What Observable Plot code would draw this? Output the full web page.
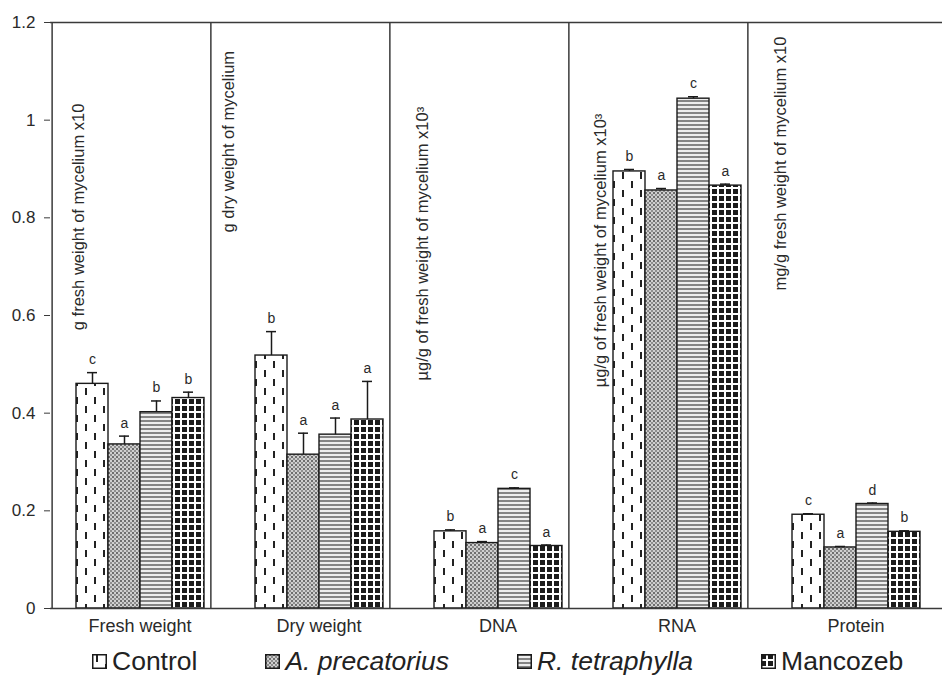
<!DOCTYPE html>
<html><head><meta charset="utf-8">
<script src="https://cdn.jsdelivr.net/npm/d3@7"></script>
<script src="https://cdn.jsdelivr.net/npm/@observablehq/plot@0.6"></script>
<style>
body{margin:0;background:#fff;font-family:"Liberation Sans",Arial,sans-serif;color:#222}
#chart{width:942px}
#legend{display:flex;align-items:center;height:36px;padding-top:1px;padding-left:92px;font-size:26.5px;line-height:36px;color:#222}
.item{display:flex;align-items:center;margin-right:68px;white-space:nowrap}
.item svg{margin-right:5px}
.it{font-style:italic}
</style></head><body>
<svg width="0" height="0" style="position:absolute"><defs>
<pattern id="p-control" patternUnits="userSpaceOnUse" width="18" height="18">
 <rect width="18" height="18" fill="#fff"/>
 <rect x="4" y="1" width="2" height="7" fill="#222"/>
 <rect x="13" y="10" width="2" height="7" fill="#222"/>
</pattern>
<pattern id="p-prec" patternUnits="userSpaceOnUse" width="4" height="4">
 <rect width="4" height="4" fill="#cfcfcf"/>
 <rect x="0" y="0" width="2" height="2" fill="#6e6e6e"/>
 <rect x="2" y="2" width="2" height="2" fill="#8e8e8e"/>
</pattern>
<pattern id="p-tetra" patternUnits="userSpaceOnUse" width="4" height="4">
 <rect width="4" height="4" fill="#eeeeee"/>
 <rect x="0" y="0" width="4" height="2" fill="#858585"/>
</pattern>
<pattern id="p-manc" patternUnits="userSpaceOnUse" width="7" height="7">
 <rect width="7" height="7" fill="#fff"/>
 <rect x="0" y="0" width="5" height="5" fill="#1c1c1c"/>
</pattern>
</defs></svg>
<div id="chart"></div>
<div id="legend"></div>
<script>
// ---- data ----
const categories = ["Fresh weight", "Dry weight", "DNA", "RNA", "Protein"];
const series = ["Control", "A. precatorius", "R. tetraphylla", "Mancozeb"];
const control     = [0.460, 0.518, 0.158, 0.895, 0.192];
const precatorius = [0.336, 0.315, 0.134, 0.856, 0.125];
const tetraphylla = [0.402, 0.356, 0.245, 1.044, 0.214];
const mancozeb    = [0.431, 0.387, 0.128, 0.866, 0.157];
const controlErr     = [0.023, 0.049, 0.003, 0.004, 0.002];
const precatoriusErr = [0.017, 0.044, 0.003, 0.004, 0.002];
const tetraphyllaErr = [0.023, 0.034, 0.002, 0.004, 0.002];
const mancozebErr    = [0.012, 0.078, 0.002, 0.003, 0.002];
const controlLetters     = ["c", "b", "b", "b", "c"];
const precatoriusLetters = ["a", "a", "a", "a", "a"];
const tetraphyllaLetters = ["b", "a", "c", "c", "d"];
const mancozebLetters    = ["b", "a", "a", "a", "b"];
const unitLabels = [
  "g fresh weight of mycelium x10",
  "g dry weight of mycelium",
  "µg/g of fresh weight of mycelium x10³",
  "µg/g of fresh weight of mycelium x10³",
  "mg/g fresh weight of mycelium x10"
];
const yTicks = [0, 0.2, 0.4, 0.6, 0.8, 1, 1.2];

// ---- build table ----
const valuesBySeries = [control, precatorius, tetraphylla, mancozeb];
const errBySeries = [controlErr, precatoriusErr, tetraphyllaErr, mancozebErr];
const lettersBySeries = [controlLetters, precatoriusLetters, tetraphyllaLetters, mancozebLetters];
const rows = [];
categories.forEach((c, i) => series.forEach((s, j) => rows.push({
  category: c, series: s, value: valuesBySeries[j][i], err: errBySeries[j][i], letter: lettersBySeries[j][i]
})));

// ---- layout / style ----
const patternFills = ["url(#p-control)", "url(#p-prec)", "url(#p-tetra)", "url(#p-manc)"];
const fxRange = [50, 945];
const padOuter = 0.733;
const bandW = (fxRange[1] - fxRange[0]) / categories.length;
const step = bandW / (series.length + 2 * padOuter);
const firstCenterOffset = padOuter * step + step / 2;
// rotated unit annotation placement (y start in data units, horizontal offset from panel left)
const unitLabelY = [0.57, 0.77, 0.467, 0.453, 0.651];
const unitLabelDx = [28, -1, 14, 13, 14];
const lineColor = "#3a3a3a";

const unitMarks = categories.map((c, i) => Plot.text([{category: c, y: unitLabelY[i], text: unitLabels[i]}], {
  fx: "category", y: "y", text: "text", frameAnchor: "left", dx: unitLabelDx[i],
  rotate: -90, textAnchor: "start", lineAnchor: "middle", fontSize: 16.5, fill: "#2a2a2a"
}));

const chart = Plot.plot({
  width: 942, height: 642,
  marginLeft: 50, marginRight: 0, marginTop: 22, marginBottom: 34,
  style: {fontFamily: "'Liberation Sans', Arial, sans-serif", color: "#222", background: "#fff"},
  fx: {domain: categories, range: fxRange, padding: 0},
  x: {domain: series, paddingInner: 0, paddingOuter: padOuter, axis: null},
  y: {domain: [0, 1.2]},
  color: {domain: series, range: patternFills},
  marks: [
    Plot.ruleY([1.2], {stroke: lineColor, strokeWidth: 1.5}),
    Plot.barY(rows, {fx: "category", x: "series", y: "value", fill: "series", stroke: "#1a1a1a", strokeWidth: 1.4}),
    Plot.ruleX(rows, {fx: "category", x: "series", y1: "value", y2: d => d.value + d.err, stroke: "#1a1a1a", strokeWidth: 1.5}),
    Plot.tickY(rows, {fx: "category", x: "series", y: d => d.value + d.err, stroke: "#1a1a1a", strokeWidth: 1.5, insetLeft: 11, insetRight: 11}),
    Plot.text(rows, {fx: "category", x: "series", y: d => d.value + d.err, text: "letter", dy: -13, lineAnchor: "middle", fontSize: 14, fill: "#2a2a2a"}),
    ...unitMarks,
    Plot.ruleX(categories.slice(0, categories.length - 1), {fx: d => d, x: () => series[series.length - 1], dx: step / 2 + 6, stroke: lineColor, strokeWidth: 1.5}),
    Plot.ruleX([categories[0]], {fx: d => d, x: () => series[0], dx: -firstCenterOffset, stroke: lineColor, strokeWidth: 1.5}),
    Plot.ruleY([0], {stroke: lineColor, strokeWidth: 1.5}),
    Plot.axisY(yTicks, {tickSize: 6, tickPadding: 9, fontSize: 17, label: null, tickFormat: d => String(d), stroke: lineColor, fill: "#2a2a2a"}),
    Plot.axisFx({anchor: "bottom", tickSize: 0, tickPadding: 11, fontSize: 18, label: null, fill: "#2a2a2a"})
  ]
});
document.getElementById("chart").appendChild(chart);

// ---- legend ----
const legend = document.getElementById("legend");
series.forEach((s, j) => {
  const item = document.createElement("div");
  item.className = "item";
  item.innerHTML = `<svg width="15" height="15"><rect x="0.75" y="0.75" width="13.5" height="13.5" fill="${patternFills[j]}" stroke="#1a1a1a" stroke-width="1.5"/></svg>`;
  const label = document.createElement("span");
  label.textContent = s;
  if (j === 1 || j === 2) label.className = "it";
  item.appendChild(label);
  legend.appendChild(item);
});
</script>
</body></html>
